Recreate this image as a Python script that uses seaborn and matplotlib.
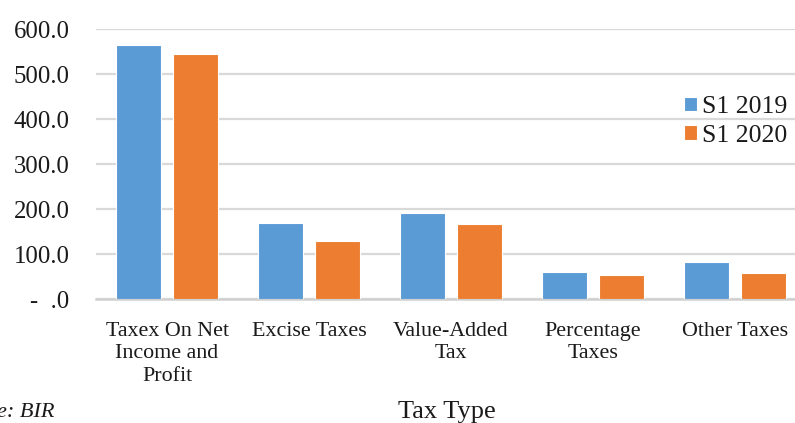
import matplotlib
matplotlib.use("Agg")
import matplotlib.pyplot as plt
import seaborn as sns
import pandas as pd

categories = ["Taxex On Net\nIncome and\nProfit", "Excise Taxes", "Value-Added\nTax",
              "Percentage\nTaxes", "Other Taxes"]
s1_2019 = [565.5, 169.0, 192.0, 60.5, 82.5]
s1_2020 = [545.5, 129.0, 167.5, 54.5, 57.5]
series = ["S1 2019", "S1 2020"]
yticks = [0, 100, 200, 300, 400, 500, 600]
ytick_labels = ["-  .0", "100.0", "200.0", "300.0", "400.0", "500.0", "600.0"]

df = pd.DataFrame({
    "cat": categories * 2,
    "val": s1_2019 + s1_2020,
    "series": [series[0]] * len(categories) + [series[1]] * len(categories),
})

sns.set_theme(style="white")
plt.rcParams["font.family"] = ["Liberation Serif", "DejaVu Serif"]
txt = "#1a1a1a"

W, H = 795, 423
fig = plt.figure(figsize=(W / 100, H / 100), dpi=100)
ax = fig.add_axes([96 / W, (H - 299.3) / H, 710 / W, 269.8 / H])

sns.barplot(data=df, x="cat", y="val", hue="series", order=categories,
            palette=["#5B9BD5", "#ED7D31"], saturation=1, width=0.8, gap=0.21,
            edgecolor="white", linewidth=0.8, ax=ax, zorder=3)

ax.set_xlim(-0.5, 4.5)
ax.set_ylim(0, 600)
ax.set_yticks(yticks)
ax.set_yticklabels(ytick_labels, fontsize=17.8, color=txt)
ax.tick_params(axis="y", length=0, pad=19)
ax.tick_params(axis="x", length=0, pad=16, labelsize=15.8, labelcolor=txt)
for lbl in ax.get_xticklabels():
    lbl.set_linespacing(1.28)
ax.grid(axis="y", color="#d9d9d9", linewidth=1.6, zorder=0)
ax.set_axisbelow(True)
for s in ["left", "right", "top"]:
    ax.spines[s].set_visible(False)
ax.spines["bottom"].set_color("#d0d0d0")
ax.spines["bottom"].set_linewidth(1.8)
ax.set_xlabel("")
ax.set_ylabel("")

handles, labels = ax.get_legend_handles_labels()
ax.legend(handles, labels, loc="upper left", bbox_to_anchor=(674 / W, (H - 86) / H),
          bbox_transform=fig.transFigure, frameon=False, fontsize=18.5,
          handlelength=0.5, handleheight=0.5, handletextpad=0.2,
          labelspacing=0.25, borderaxespad=0, labelcolor=txt)

fig.text(447 / W, 1 - 412 / H, "Tax Type", ha="center", va="center",
         fontsize=19, color=txt)
fig.text(55 / W, 1 - 412 / H, "Source: BIR", ha="right", va="center",
         fontsize=16, style="italic", color=txt)

fig.savefig("out.png", dpi=100)
